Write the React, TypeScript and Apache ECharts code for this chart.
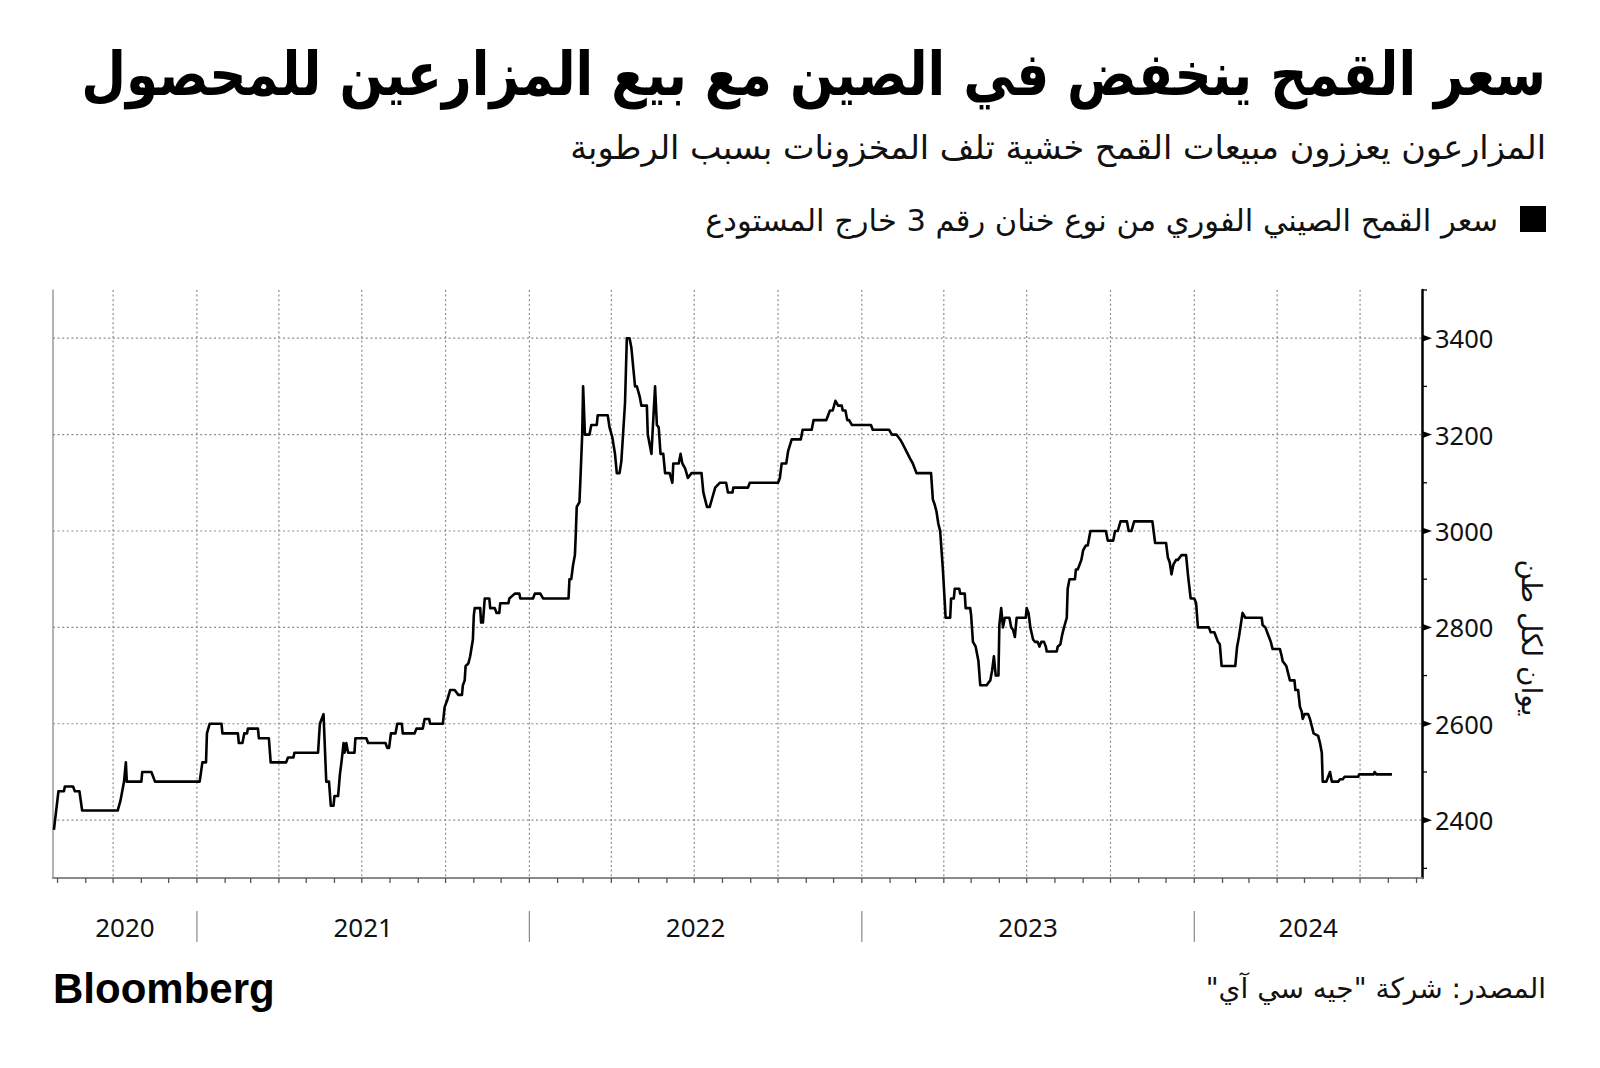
import React, { useEffect, useRef } from "react";
import * as echarts from "echarts";

// ---------- data ----------
const dates: string[] = [
  "2020-07-28","2020-08-02","2020-08-08","2020-08-09","2020-08-18","2020-08-20","2020-08-25","2020-08-28",
  "2020-10-06","2020-10-09","2020-10-11","2020-10-13","2020-10-15","2020-10-16","2020-11-01","2020-11-02",
  "2020-11-12","2020-11-14","2020-11-16","2021-01-04","2021-01-07","2021-01-11","2021-01-12","2021-01-15",
  "2021-01-28","2021-01-29","2021-02-15","2021-02-16","2021-02-20","2021-02-22","2021-02-25","2021-02-26",
  "2021-03-09","2021-03-10","2021-03-21","2021-03-23","2021-04-09","2021-04-11","2021-04-17","2021-04-18",
  "2021-05-14","2021-05-16","2021-05-20","2021-05-23","2021-05-26","2021-05-28","2021-05-31","2021-06-01",
  "2021-06-05","2021-06-07","2021-06-09","2021-06-11","2021-06-12","2021-06-14","2021-06-16","2021-06-23",
  "2021-06-24","2021-07-06","2021-07-08","2021-07-27","2021-07-29","2021-07-31","2021-08-02","2021-08-07",
  "2021-08-09","2021-08-14","2021-08-15","2021-08-28","2021-08-30","2021-09-06","2021-09-08","2021-09-13",
  "2021-09-14","2021-09-28","2021-09-30","2021-10-03","2021-10-06","2021-10-11","2021-10-15","2021-10-19",
  "2021-10-20","2021-10-22","2021-10-23","2021-10-26","2021-10-28","2021-10-31","2021-11-01","2021-11-02",
  "2021-11-08","2021-11-09","2021-11-11","2021-11-13","2021-11-18","2021-11-19","2021-11-24","2021-11-26",
  "2021-11-29","2021-11-30","2021-12-09","2021-12-10","2021-12-16","2021-12-21","2021-12-22","2022-01-05",
  "2022-01-07","2022-01-13","2022-01-16","2022-02-13","2022-02-14","2022-02-16","2022-02-18","2022-02-20",
  "2022-02-21","2022-02-22","2022-02-25","2022-02-26","2022-02-28","2022-03-01","2022-03-03","2022-03-08",
  "2022-03-10","2022-03-16","2022-03-17","2022-03-28","2022-03-30","2022-04-02","2022-04-05","2022-04-07",
  "2022-04-10","2022-04-12","2022-04-16","2022-04-18","2022-04-21","2022-04-23","2022-04-27","2022-04-29",
  "2022-05-02","2022-05-04","2022-05-10","2022-05-11","2022-05-15","2022-05-16","2022-05-19","2022-05-21",
  "2022-05-23","2022-05-25","2022-05-28","2022-05-30","2022-06-04","2022-06-07","2022-06-08","2022-06-14",
  "2022-06-16","2022-06-18","2022-06-21","2022-06-24","2022-06-28","2022-07-09","2022-07-11","2022-07-13",
  "2022-07-15","2022-07-18","2022-07-21","2022-07-24","2022-07-29","2022-08-05","2022-08-07","2022-08-12",
  "2022-08-13","2022-08-29","2022-08-31","2022-10-01","2022-10-03","2022-10-05","2022-10-10","2022-10-12",
  "2022-10-16","2022-10-26","2022-10-28","2022-11-07","2022-11-09","2022-11-23","2022-11-25","2022-11-27",
  "2022-11-30","2022-12-03","2022-12-06","2022-12-10","2022-12-11","2022-12-14","2022-12-16","2022-12-18",
  "2022-12-21","2023-01-11","2023-01-13","2023-01-31","2023-02-03","2023-02-08","2023-02-12","2023-02-15",
  "2023-02-19","2023-02-23","2023-02-26","2023-03-02","2023-03-18","2023-03-20","2023-03-22","2023-03-24",
  "2023-03-26","2023-03-28","2023-03-31","2023-04-03","2023-04-08","2023-04-09","2023-04-12","2023-04-13",
  "2023-04-18","2023-04-19","2023-04-24","2023-04-25","2023-04-30","2023-05-01","2023-05-03","2023-05-06",
  "2023-05-09","2023-05-11","2023-05-18","2023-05-22","2023-05-24","2023-05-26","2023-05-28","2023-05-31",
  "2023-06-01","2023-06-03","2023-06-05","2023-06-07","2023-06-12","2023-06-14","2023-06-16","2023-06-18",
  "2023-06-20","2023-06-30","2023-07-01","2023-07-03","2023-07-05","2023-07-08","2023-07-10","2023-07-13",
  "2023-07-15","2023-07-17","2023-07-20","2023-07-22","2023-07-23","2023-08-03","2023-08-04","2023-08-07",
  "2023-08-09","2023-08-11","2023-08-14","2023-08-15","2023-08-17","2023-08-23","2023-08-24","2023-08-26",
  "2023-08-28","2023-08-30","2023-09-01","2023-09-04","2023-09-06","2023-09-09","2023-09-26","2023-09-28",
  "2023-10-04","2023-10-06","2023-10-09","2023-10-12","2023-10-19","2023-10-21","2023-10-24","2023-10-27",
  "2023-11-16","2023-11-19","2023-12-01","2023-12-03","2023-12-05","2023-12-07","2023-12-09","2023-12-12",
  "2023-12-14","2023-12-18","2023-12-23","2023-12-25","2023-12-28","2024-01-01","2024-01-03","2024-01-05",
  "2024-01-17","2024-01-19","2024-01-23","2024-01-25","2024-01-27","2024-01-29","2024-01-31","2024-02-15",
  "2024-02-17","2024-02-19","2024-02-21","2024-02-23","2024-02-26","2024-03-15","2024-03-16","2024-03-19",
  "2024-03-21","2024-03-23","2024-03-25","2024-03-27","2024-04-04","2024-04-06","2024-04-07","2024-04-11",
  "2024-04-13","2024-04-15","2024-04-20","2024-04-21","2024-04-24","2024-04-26","2024-04-28","2024-04-29",
  "2024-05-01","2024-05-05","2024-05-07","2024-05-09","2024-05-11","2024-05-16","2024-05-18","2024-05-20",
  "2024-05-21","2024-05-25","2024-05-27","2024-05-29","2024-05-31","2024-06-07","2024-06-09","2024-06-12",
  "2024-06-14","2024-06-29","2024-06-30","2024-07-16","2024-07-17","2024-07-19","2024-08-05",
];

const prices: number[] = [
  2380,2460,2460,2470,2470,2460,2460,2420,
  2420,2440,2460,2480,2520,2480,2480,2500,
  2500,2490,2480,2480,2520,2520,2580,2600,
  2600,2580,2580,2560,2560,2580,2580,2590,
  2590,2570,2570,2520,2520,2530,2530,2540,
  2540,2600,2620,2480,2480,2430,2430,2450,
  2450,2495,2525,2560,2540,2560,2540,2540,
  2570,2570,2560,2560,2550,2550,2580,2580,
  2600,2600,2580,2580,2590,2590,2610,2610,
  2600,2600,2635,2650,2670,2670,2660,2660,
  2680,2690,2720,2725,2740,2775,2825,2840,
  2840,2810,2810,2860,2860,2840,2840,2830,
  2830,2850,2850,2860,2870,2870,2860,2860,
  2870,2870,2860,2860,2900,2900,2930,2950,
  2995,3050,3060,3105,3200,3300,3200,3200,
  3220,3220,3240,3240,3215,3195,3160,3120,
  3120,3145,3265,3400,3400,3380,3300,3300,
  3280,3260,3260,3200,3160,3195,3300,3220,
  3215,3160,3160,3120,3120,3100,3140,3140,
  3160,3140,3130,3110,3120,3120,3080,3065,
  3050,3050,3070,3090,3100,3100,3080,3080,
  3090,3090,3100,3100,3110,3140,3140,3165,
  3190,3190,3210,3210,3230,3230,3240,3250,
  3250,3270,3260,3260,3250,3250,3230,3230,
  3220,3220,3210,3210,3200,3200,3190,3180,
  3165,3150,3140,3120,3120,3065,3055,3040,
  3015,3000,2920,2820,2820,2860,2860,2880,
  2880,2870,2870,2840,2840,2825,2770,2760,
  2730,2680,2680,2690,2710,2740,2700,2700,
  2805,2840,2800,2820,2820,2800,2795,2780,
  2820,2820,2840,2830,2800,2775,2770,2770,
  2760,2770,2770,2760,2750,2750,2760,2765,
  2785,2800,2820,2880,2900,2900,2920,2920,
  2930,2940,2960,2970,2970,3000,3000,2980,
  2980,3000,3000,3020,3020,3000,3000,3020,
  3020,2975,2975,2945,2935,2910,2930,2940,
  2940,2950,2950,2910,2860,2860,2850,2800,
  2800,2790,2790,2780,2770,2765,2720,2720,
  2760,2780,2805,2830,2820,2820,2805,2800,
  2790,2780,2770,2755,2755,2740,2730,2720,
  2705,2690,2690,2670,2670,2635,2625,2610,
  2620,2620,2610,2595,2580,2575,2560,2540,
  2480,2480,2490,2500,2480,2480,2485,2485,
  2490,2490,2495,2495,2500,2495,2495,
];

const yMajorTicks: number[] = [2400, 2600, 2800, 3000, 3200, 3400];
const yMinorTicks: number[] = [2300, 2500, 2700, 2900, 3100, 3300, 3500];
const quarterDates: string[] = [
  "2020-10-01","2021-01-01","2021-04-01","2021-07-01","2021-10-01","2022-01-01","2022-04-01","2022-07-01",
  "2022-10-01","2023-01-01","2023-04-01","2023-07-01","2023-10-01","2024-01-01","2024-04-01","2024-07-01",
];
const monthDates: string[] = (() => {
  const out: string[] = [];
  for (let y = 2020; y <= 2024; y++) {
    for (let m = 1; m <= 12; m++) {
      const s = `${y}-${String(m).padStart(2, "0")}-01`;
      if (s >= "2020-08-01" && s <= "2024-09-01") out.push(s);
    }
  }
  return out;
})();
const yearLabels: string[] = ["2020", "2021", "2022", "2023", "2024"];
const yearStarts: string[] = ["2021-01-01", "2022-01-01", "2023-01-01", "2024-01-01"];

const X_MIN = "2020-07-27";
const X_MAX = "2024-09-07";
const Y_MIN = 2280;
const Y_MAX = 3500;

const TITLE = "سعر القمح ينخفض في الصين مع بيع المزارعين للمحصول";
const SUBTITLE = "المزارعون يعززون مبيعات القمح خشية تلف المخزونات بسبب الرطوبة";
const SERIES_NAME = "سعر القمح الصيني الفوري من نوع خنان رقم 3 خارج المستودع";
const Y_NAME = "يوان لكل طن";
const SOURCE = "المصدر: شركة \"جيه سي آي\"\u200F";
const BRAND = "Bloomberg";

const AR = '"DejaVu Sans", sans-serif';
const NUM = '"Noto Sans", sans-serif';
const GRID_COLOR = "#8c8c8c";

export default function App() {
  const ref = useRef<HTMLDivElement>(null);

  useEffect(() => {
    document.body.style.margin = "0";
    if (!ref.current) return;
    const chart = echarts.init(ref.current, null, { renderer: "svg" });

    const dotted = { stroke: GRID_COLOR, lineWidth: 1.2, lineDash: [2, 2.6] };

    const option: any = {
      animation: false,
      backgroundColor: "#ffffff",
      grid: { left: 53, right: 178, top: 290, bottom: 190, containLabel: false, outerBoundsMode: "none" },
      xAxis: {
        type: "time",
        min: X_MIN,
        max: X_MAX,
        axisLine: { show: true, lineStyle: { color: "#8a8a8a", width: 2 } },
        axisTick: { show: false },
        axisLabel: { show: false },
        splitLine: { show: false },
      },
      yAxis: [
        {
          type: "value",
          position: "right",
          min: Y_MIN,
          max: Y_MAX,
          axisLine: { show: true, lineStyle: { color: "#000", width: 2.5 } },
          axisTick: { show: false },
          splitLine: { show: false },
          axisLabel: {
            show: true,
            customValues: yMajorTicks,
            formatter: (v: number) => String(Math.round(v)),
            color: "#111",
            fontSize: 25.5,
            fontFamily: NUM,
            margin: 13,
          },
        },
        {
          type: "value",
          position: "left",
          min: Y_MIN,
          max: Y_MAX,
          axisLine: { show: true, lineStyle: { color: "#9a9a9a", width: 1.5 } },
          axisTick: { show: false },
          axisLabel: { show: false },
          splitLine: { show: false },
        },
      ],
      series: [
        {
          type: "custom",
          silent: true,
          z: 1,
          data: yMajorTicks.map((v) => [X_MIN, v]),
          encode: { x: 0, y: 1 },
          renderItem: (params: any, api: any) => {
            const cs = params.coordSys;
            const y = api.coord([api.value(0), api.value(1)])[1];
            return { type: "line", shape: { x1: cs.x, y1: y, x2: cs.x + cs.width, y2: y }, style: dotted };
          },
        },
        {
          type: "custom",
          silent: true,
          z: 1,
          data: quarterDates.map((d) => [d, Y_MIN]),
          encode: { x: 0, y: 1 },
          renderItem: (params: any, api: any) => {
            const cs = params.coordSys;
            const x = api.coord([api.value(0), api.value(1)])[0];
            return { type: "line", shape: { x1: x, y1: cs.y, x2: x, y2: cs.y + cs.height }, style: dotted };
          },
        },
        {
          type: "custom",
          silent: true,
          z: 3,
          data: monthDates.map((d) => [d, Y_MIN]),
          encode: { x: 0, y: 1 },
          renderItem: (params: any, api: any) => {
            const cs = params.coordSys;
            const x = api.coord([api.value(0), api.value(1)])[0];
            const yb = cs.y + cs.height;
            return { type: "line", shape: { x1: x, y1: yb, x2: x, y2: yb + 5 }, style: { stroke: "#555", lineWidth: 1.3 } };
          },
        },
        {
          type: "custom",
          silent: true,
          z: 3,
          data: yearStarts.map((d) => [d, Y_MIN]),
          encode: { x: 0, y: 1 },
          renderItem: (params: any, api: any) => {
            const cs = params.coordSys;
            const x = api.coord([api.value(0), api.value(1)])[0];
            const yb = cs.y + cs.height;
            return { type: "line", shape: { x1: x, y1: yb + 33, x2: x, y2: yb + 64 }, style: { stroke: "#8a8a8a", lineWidth: 1.2 } };
          },
        },
        {
          type: "custom",
          silent: true,
          z: 3,
          data: yearLabels.map((y) => [`${y}-01-01`, `${Number(y) + 1}-01-01`, Y_MIN]),
          encode: { x: [0, 1], y: 2 },
          renderItem: (params: any, api: any) => {
            const cs = params.coordSys;
            const x1 = Math.max(cs.x, api.coord([api.value(0), api.value(2)])[0]);
            const x2 = Math.min(cs.x + cs.width, api.coord([api.value(1), api.value(2)])[0]);
            const yb = cs.y + cs.height;
            return {
              type: "text",
              style: {
                text: yearLabels[params.dataIndex],
                x: (x1 + x2) / 2,
                y: yb + 49,
                align: "center",
                verticalAlign: "middle",
                fontSize: 26,
                fontFamily: NUM,
                fill: "#111",
              },
            };
          },
        },
        {
          type: "custom",
          silent: true,
          z: 4,
          data: [...yMajorTicks.map((v) => [X_MAX, v, 1]), ...yMinorTicks.map((v) => [X_MAX, v, 0])],
          encode: { x: 0, y: 1 },
          renderItem: (params: any, api: any) => {
            const cs = params.coordSys;
            const y = api.coord([api.value(0), api.value(1)])[1];
            const x = cs.x + cs.width;
            if (api.value(2) === 1) {
              return {
                type: "polygon",
                shape: { points: [[x, y - 3.6], [x + 10, y], [x, y + 3.6]] },
                style: { fill: "#000" },
              };
            }
            return { type: "line", shape: { x1: x, y1: y, x2: x + 5, y2: y }, style: { stroke: "#000", lineWidth: 1.3 } };
          },
        },
        {
          name: SERIES_NAME,
          type: "line",
          z: 5,
          showSymbol: false,
          symbol: "none",
          data: dates.map((d, i) => [d, prices[i]]),
          lineStyle: { color: "#000", width: 2.6, join: "round" },
        },
      ],
      graphic: [
        {
          type: "text",
          x: 1546,
          y: 74,
          scaleX: 0.86,
          style: { text: TITLE, align: "right", verticalAlign: "middle", fontSize: 60, fontWeight: "bold", fontFamily: AR, fill: "#000" },
        },
        {
          type: "text",
          x: 1546,
          y: 147,
          style: { text: SUBTITLE, align: "right", verticalAlign: "middle", fontSize: 33.5, fontFamily: AR, fill: "#111" },
        },
        {
          type: "rect",
          shape: { x: 1520, y: 206, width: 26, height: 26 },
          style: { fill: "#000" },
        },
        {
          type: "text",
          x: 1498,
          y: 220,
          style: { text: SERIES_NAME, align: "right", verticalAlign: "middle", fontSize: 30.5, fontFamily: AR, fill: "#111" },
        },
        {
          type: "text",
          x: 1531,
          y: 638,
          rotation: -Math.PI / 2,
          style: { text: Y_NAME, align: "center", verticalAlign: "middle", fontSize: 28, fontFamily: AR, fill: "#111" },
        },
        {
          type: "text",
          x: 53,
          y: 988,
          style: { text: BRAND, align: "left", verticalAlign: "middle", fontSize: 42, fontWeight: "bold", fontFamily: '"Liberation Sans", sans-serif', fill: "#000" },
        },
        {
          type: "text",
          x: 1546,
          y: 988,
          style: { text: SOURCE, align: "right", verticalAlign: "middle", fontSize: 28, fontFamily: AR, fill: "#111" },
        },
      ],
    };

    chart.setOption(option);
    return () => chart.dispose();
  }, []);

  return <div ref={ref} style={{ width: 1600, height: 1068 }} />;
}
